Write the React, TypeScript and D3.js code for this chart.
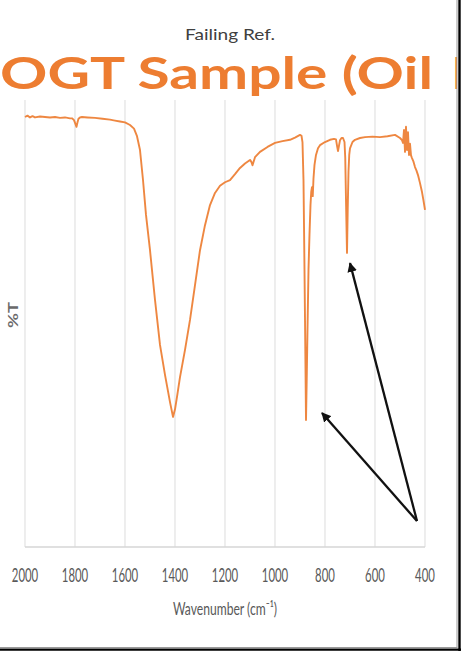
import React from "react";
import * as d3 from "d3";

const W = 461;
const H = 651;

// Spectrum (wavenumber in cm^-1, %T)
const wavenumbers = [
  2000, 1990, 1980, 1970, 1960, 1940, 1920, 1900, 1880, 1860, 1840, 1820, 1812, 1804, 1798, 1794, 1790, 1786, 1780,
  1772, 1750, 1720, 1690, 1660, 1640, 1620, 1600, 1580, 1564, 1552, 1540, 1528, 1516, 1500, 1480, 1460,
  1440, 1420, 1408, 1400, 1392, 1380, 1360, 1340, 1320, 1300, 1280, 1260, 1240, 1220, 1200, 1180, 1160,
  1140, 1120, 1100, 1094, 1090, 1080, 1060, 1030, 1000, 970, 940, 920, 900, 894, 890, 886, 882, 878, 876,
  873, 870, 866, 862, 858, 855, 852, 849, 846, 842, 836, 828, 820, 800, 780, 764, 756, 752, 748, 744, 740,
  734, 728, 722, 719, 716, 712, 709, 706, 703, 700, 690, 680, 660, 640, 610, 580, 550, 520, 500, 492, 488,
  484, 480, 476, 472, 468, 464, 460, 456, 452, 446, 440, 434, 428, 420, 412, 406, 400,
];
const transmittance = [
  96.2, 96.5, 96.1, 96.4, 96.1, 96.3, 96.2, 96.1, 96.2, 96.0, 96.1, 95.9, 95.9, 95.5, 94.6, 94.0, 95.0, 95.8, 96.1,
  96.2, 96.1, 96.0, 95.8, 95.6, 95.4, 95.2, 95.0, 94.4, 93.6, 91.9, 88.8, 82.1, 74.3, 66.4, 55.3, 45.2,
  38.5, 32.4, 29.1, 30.8, 33.6, 38.0, 44.1, 50.8, 58.6, 66.4, 72.0, 76.5, 79.2, 80.8, 81.6, 82.1, 83.4,
  84.8, 85.8, 86.6, 86.1, 85.4, 87.2, 88.4, 89.5, 90.4, 90.8, 91.1, 91.6, 92.2, 92.0, 90.5, 82.0, 62.0, 40.0, 28.4,
  38.0, 48.8, 62.0, 70.0, 76.5, 79.5, 80.5, 78.5, 82.5, 85.5, 87.7, 89.2, 89.9, 90.6, 91.1, 91.3, 91.2, 89.8, 88.6, 89.8, 91.0,
  91.5, 91.5, 90.6, 87.0, 77.6, 65.8, 76.0, 84.0, 87.8, 89.2, 90.6, 91.1, 91.5, 91.7, 91.8, 91.7, 91.9, 92.2, 91.5, 91.0, 90.4,
  93.3, 88.4, 94.0, 88.8, 92.8, 87.7, 90.2, 87.6, 87.0, 86.2, 85.0, 84.2, 83.2, 81.4, 79.4, 77.5, 75.4,
];

// X axis ticks
const xTicks = [2000, 1800, 1600, 1400, 1200, 1000, 800, 600, 400];

// Annotation arrows: shared tail, two heads (wavenumber, %T)
const arrowTail = [432, 5.8];
const arrowHeads = [
  [812, 30.0],
  [700, 63.5],
];

const chartTitle = "Failing Ref.";
const overlayTitle = "OGT Sample (Oil";
const overlayTitleRest = "Ref.)";
const xTitle = "Wavenumber (cm⁻¹)";
const yTitle = "%T";

export default function App() {
  const x = d3.scaleLinear().domain([2000, 400]).range([25, 425]);
  const y = d3.scaleLinear().domain([0, 100]).range([547, 100]);

  const data = wavenumbers.map((w, i) => [w, transmittance[i]] as [number, number]);
  const line = d3
    .line<[number, number]>()
    .x((d) => x(d[0]))
    .y((d) => y(d[1]))
    .curve(d3.curveLinear);

  const orange = "#ED7D31";
  const grid = "#e2e2e2";
  const textGray = "#595959";

  return (
    <svg
      width={W}
      height={H}
      viewBox={`0 0 ${W} ${H}`}
      style={{ position: "absolute", left: 0, top: 0, background: "#fff" }}
    >
      <defs>
        <clipPath id="frame">
          <rect x={0} y={0} width={457} height={647} />
        </clipPath>
        <marker
          id="ah"
          viewBox="0 0 10 10"
          refX={9}
          refY={5}
          markerWidth={4.2}
          markerHeight={4.2}
          orient="auto"
          markerUnits="strokeWidth"
        >
          <path d="M0,0 L10,5 L0,10 Z" fill="#111" />
        </marker>
      </defs>
      <rect x={0} y={0} width={W} height={H} fill="#fff" />

      <g clipPath="url(#frame)">
        {/* gridlines */}
        {xTicks.map((t) => (
          <line key={t} x1={x(t)} x2={x(t)} y1={y(100)} y2={y(0)} stroke={grid} strokeWidth={1.2} />
        ))}
        <line x1={x(2000)} x2={x(400)} y1={y(0)} y2={y(0)} stroke="#d6d6d6" strokeWidth={1.5} />

        {/* spectrum */}
        <path d={line(data) || ""} fill="none" stroke={orange} strokeWidth={1.9} strokeLinejoin="round" opacity={0.92} />

        {/* arrows */}
        {arrowHeads.map((h, i) => (
          <line
            key={i}
            x1={x(arrowTail[0])}
            y1={y(arrowTail[1])}
            x2={x(h[0])}
            y2={y(h[1])}
            stroke="#111"
            strokeWidth={2.3}
            markerEnd="url(#ah)"
          />
        ))}

        {/* tick labels */}
        {xTicks.map((t) => (
          <text
            key={t}
            x={x(t)}
            y={582}
            textAnchor="middle"
            fontFamily="Lato, 'Open Sans', sans-serif"
            fontSize={19}
            fill={textGray}
            textLength={String(t).length * 6.6}
            lengthAdjust="spacingAndGlyphs"
          >
            {t}
          </text>
        ))}

        {/* x title */}
        <text
          x={225}
          y={615}
          textAnchor="middle"
          fontFamily="Lato, 'Open Sans', sans-serif"
          fontSize={18}
          fill={textGray}
          textLength={104}
          lengthAdjust="spacingAndGlyphs"
        >
          {xTitle}
        </text>

        {/* y title */}
        <text
          transform="translate(18,315) rotate(-90)"
          textAnchor="middle"
          fontFamily="Lato, 'Open Sans', sans-serif"
          fontSize={12.5}
          fontWeight={700}
          fill="#6a6a6a"
          textLength={26}
          lengthAdjust="spacingAndGlyphs"
        >
          {yTitle}
        </text>

        {/* chart title */}
        <text
          x={230}
          y={39.5}
          textAnchor="middle"
          fontFamily="Lato, 'Open Sans', sans-serif"
          fontSize={16}
          fill="#404040"
          textLength={90}
          lengthAdjust="spacingAndGlyphs"
        >
          {chartTitle}
        </text>

        {/* overlay title */}
        <text
          x={0}
          y={88.5}
          fontFamily="Lato, 'Open Sans', sans-serif"
          fontSize={43}
          fontWeight={700}
          fill={orange}
          textLength={433}
          lengthAdjust="spacingAndGlyphs"
        >
          {overlayTitle}
        </text>
        <text
          x={452}
          y={88.5}
          fontFamily="Lato, 'Open Sans', sans-serif"
          fontSize={43}
          fontWeight={700}
          fill={orange}
        >
          {overlayTitleRest}
        </text>
      </g>

      {/* frame */}
      <line x1={457} x2={457} y1={0} y2={647.5} stroke="#9a9a9a" strokeWidth={1} />
      <line x1={0} x2={457.5} y1={647.5} y2={647.5} stroke="#9a9a9a" strokeWidth={1} />
      <line x1={459.5} x2={459.5} y1={0} y2={651} stroke="#000" strokeWidth={2.4} />
      <line x1={0} x2={461} y1={649.6} y2={649.6} stroke="#000" strokeWidth={2.2} />
    </svg>
  );
}
